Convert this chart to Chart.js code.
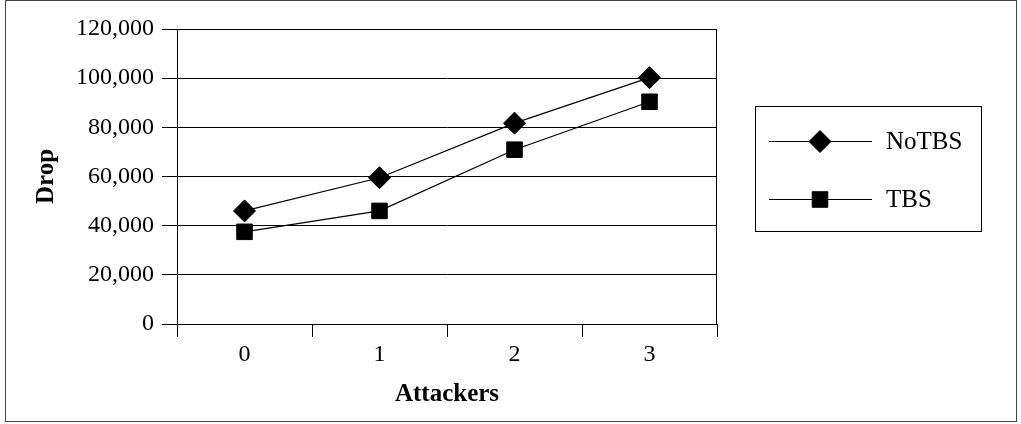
<!DOCTYPE html>
<html>
<head>
<meta charset="utf-8">
<script src="https://cdn.jsdelivr.net/npm/chart.js@4/dist/chart.umd.min.js"></script>
<style>
  html, body { margin: 0; padding: 0; background: #fff; }
  #wrap { width: 1021px; height: 424px; }
</style>
</head>
<body>
<div id="wrap"><canvas id="chart" width="1021" height="424"></canvas></div>
<script>
// Attackers on the x axis, packet drops on the y axis
const categories = ['0', '1', '2', '3'];
const seriesNames = ['NoTBS', 'TBS'];
const noTbsValues = [46000, 59500, 81700, 100200];
const tbsValues = [37500, 46000, 70900, 90400];
const yTickLabels = ['0', '20,000', '40,000', '60,000', '80,000', '100,000', '120,000'];
const xTitle = 'Attackers';
const yTitle = 'Drop';

const FONT = "'Liberation Serif', 'Times New Roman', serif";

// Plot-area box, outer frame and a bordered legend on the right
const framePlugin = {
  id: 'frame',
  afterDraw(chart) {
    const ctx = chart.ctx;
    const a = chart.chartArea;
    ctx.save();
    ctx.strokeStyle = '#000';
    ctx.lineWidth = 1;
    ctx.strokeRect(Math.round(a.left) + 0.5, Math.round(a.top) + 0.5,
                   Math.round(a.right - a.left) - 1, Math.round(a.bottom - a.top));
    // outer frame
    ctx.strokeStyle = '#444';
    ctx.strokeRect(5.5, 0.5, 1011, 421);

    // legend
    const box = { x: 755, y: 106, w: 226, h: 125 };
    ctx.strokeStyle = '#000';
    ctx.strokeRect(box.x + 0.5, box.y + 0.5, box.w, box.h);
    const rows = [141, 199];
    chart.data.datasets.forEach((ds, i) => {
      const y = rows[i];
      ctx.strokeStyle = '#000';
      ctx.lineWidth = 1;
      ctx.beginPath();
      ctx.moveTo(769, y + 0.5);
      ctx.lineTo(872, y + 0.5);
      ctx.stroke();
      ctx.fillStyle = '#000';
      Chart.helpers.drawPoint(ctx, {
        pointStyle: ds.pointStyle, radius: ds.pointRadius,
        borderWidth: 1, rotation: 0
      }, 820, y + 0.5);
      ctx.fillStyle = '#000';
      ctx.font = '25px ' + FONT;
      ctx.textBaseline = 'middle';
      ctx.textAlign = 'left';
      ctx.fillText(ds.label, 886, y + 1);
    });
    ctx.restore();
  }
};

new Chart(document.getElementById('chart'), {
  type: 'line',
  data: {
    labels: categories,
    datasets: [
      {
        label: seriesNames[0],
        data: noTbsValues,
        borderColor: '#000',
        backgroundColor: '#000',
        borderWidth: 1.2,
        pointStyle: 'rectRot',
        pointRadius: 11,
        pointBorderWidth: 1,
        pointBackgroundColor: '#000',
        pointBorderColor: '#000',
        tension: 0
      },
      {
        label: seriesNames[1],
        data: tbsValues,
        borderColor: '#000',
        backgroundColor: '#000',
        borderWidth: 1.2,
        pointStyle: 'rect',
        pointRadius: 11,
        pointBorderWidth: 1,
        pointBackgroundColor: '#000',
        pointBorderColor: '#000',
        tension: 0
      }
    ]
  },
  options: {
    responsive: false,
    animation: false,
    devicePixelRatio: 1,
    layout: { padding: { top: 29, right: 304, left: 0, bottom: 0 } },
    plugins: { legend: { display: false }, tooltip: { enabled: false } },
    scales: {
      x: {
        type: 'category',
        offset: true,
        grid: { offset: true, drawOnChartArea: false, drawTicks: true, tickLength: 13, color: '#000', lineWidth: 1 },
        border: { display: true, color: '#000', width: 1 },
        ticks: { color: '#000', font: { family: FONT, size: 24 }, padding: 3, maxRotation: 0 },
        title: { display: true, text: xTitle, color: '#000', font: { family: FONT, size: 25, weight: 'bold' }, padding: { top: 0, bottom: 14 } },
        afterFit(scale) { scale.height = 100; }
      },
      y: {
        min: 0,
        max: 120000,
        grid: { color: '#000', lineWidth: 1, tickLength: 15 },
        border: { display: true, color: '#000', width: 1 },
        ticks: {
          stepSize: 20000,
          color: '#000',
          padding: 8,
          font: { family: FONT, size: 24 },
          callback: (v, i) => yTickLabels[i]
        },
        title: { display: true, text: yTitle, color: '#000', font: { family: FONT, size: 25, weight: 'bold' }, padding: { top: 32, bottom: 0 } },
        afterFit(scale) { scale.width = 177; }
      }
    }
  },
  plugins: [framePlugin]
});
</script>
</body>
</html>
